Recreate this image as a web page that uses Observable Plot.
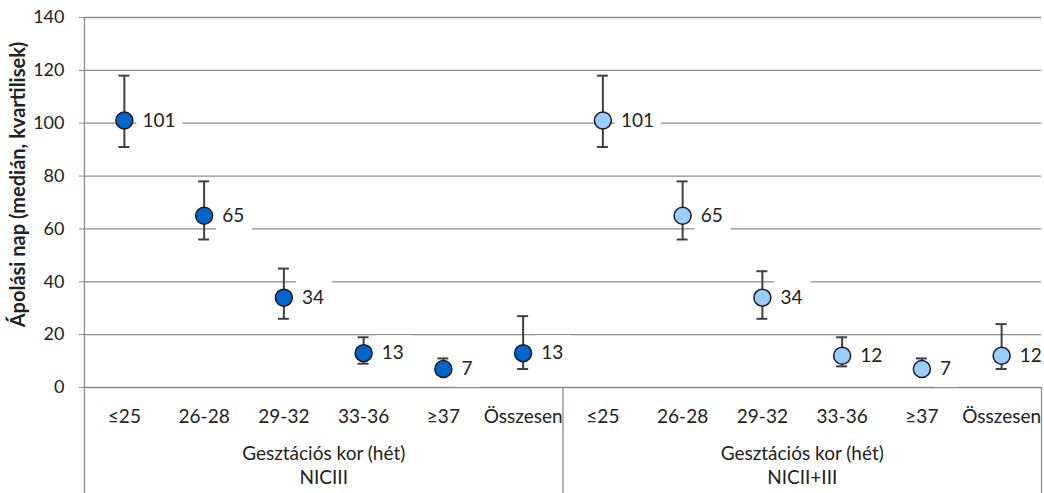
<!DOCTYPE html>
<html><head><meta charset="utf-8">
<script src="https://cdn.jsdelivr.net/npm/d3@7"></script>
<script src="https://cdn.jsdelivr.net/npm/@observablehq/plot@0.6"></script>
<style>body{margin:0;background:#fff;}</style>
</head><body><div id="chart"></div>
<script>
// ---- data ----
const categories = ["≤25", "26-28", "29-32", "33-36", "≥37", "Összesen"];
const groups = ["NICIII", "NICII+III"];
const xGroupTitle = "Gesztációs kor (hét)";
const yTitle = "Ápolási nap (medián, kvartilisek)";
const yTicks = [0, 20, 40, 60, 80, 100, 120, 140];
const medianNICIII = [101, 65, 34, 13, 7, 13];
const q1NICIII     = [91, 56, 26, 9, 5, 7];
const q3NICIII     = [118, 78, 45, 19, 11, 27];
const medianNICIIandIII = [101, 65, 34, 12, 7, 12];
const q1NICIIandIII     = [91, 56, 26, 8, 5, 7];
const q3NICIIandIII     = [118, 78, 44, 19, 11, 24];
const groupFills = ["#0066cc", "#99ccff"];

// ---- table ----
const series = [
  {median: medianNICIII, q1: q1NICIII, q3: q3NICIII},
  {median: medianNICIIandIII, q1: q1NICIIandIII, q3: q3NICIIandIII}
];
const rows = [];
groups.forEach((g, gi) => categories.forEach((c, ci) => rows.push({
  group: g, category: c, key: g + "|" + c,
  median: series[gi].median[ci], q1: series[gi].q1[ci], q3: series[gi].q3[ci]
})));
const keys = rows.map(d => d.key);

const W = 1044, H = 493, mL = 84, mR = 3, mT = 17, mB = 106;
const bw = (W - mL - mR) / keys.length;
const gridColor = "#8c8c8c", textColor = "#222";

function labelBox(w) { return {draw(ctx) { ctx.rect(12, -18, w, 36); }}; }
const boxWidths = {1: 24, 2: 36, 3: 46};

const chart = Plot.plot({
  width: W, height: H,
  marginLeft: mL, marginRight: mR, marginTop: mT, marginBottom: mB,
  style: {fontFamily: "Lato, 'Liberation Sans', sans-serif", fontSize: "18px", color: textColor, background: "#fff"},
  x: {type: "band", domain: keys, padding: 0, round: false, label: null},
  y: {domain: [0, 140], label: null},
  color: {domain: groups, range: groupFills},
  marks: [
    Plot.gridY(yTicks, {stroke: gridColor, strokeOpacity: 1, strokeWidth: 1.3}),
    Plot.axisY(yTicks, {tickSize: 5, tickPadding: 15, stroke: gridColor, fill: textColor, fontSize: 18, label: null}),
    // axis frame lines
    Plot.ruleX([keys[0]], {dx: -bw / 2, stroke: gridColor, strokeWidth: 1.3, insetBottom: -mB}),
    Plot.ruleX([keys[categories.length]], {y1: 0, y2: 0, dx: -bw / 2, stroke: gridColor, strokeWidth: 1.3, insetBottom: -mB}),
    Plot.ruleX([keys[keys.length - 1]], {y1: 0, y2: 0, dx: bw / 2, stroke: gridColor, strokeWidth: 1.3, insetBottom: -mB}),
    // label background boxes
    ...[1, 2, 3].map(n => Plot.dot(rows.filter(d => String(d.median).length === n),
      {x: "key", y: "median", symbol: labelBox(boxWidths[n]), fill: "#fff"})),
    // whiskers
    Plot.ruleX(rows, {x: "key", y1: "q1", y2: "q3", stroke: "#404040", strokeWidth: 2}),
    Plot.tickY(rows, {x: "key", y: "q3", insetLeft: (bw - 11) / 2, insetRight: (bw - 11) / 2, stroke: "#404040", strokeWidth: 2}),
    Plot.tickY(rows, {x: "key", y: "q1", insetLeft: (bw - 11) / 2, insetRight: (bw - 11) / 2, stroke: "#404040", strokeWidth: 2}),
    // medians
    Plot.dot(rows, {x: "key", y: "median", r: 8.5, fill: "group", stroke: "#1a1a1a", strokeWidth: 1.5}),
    Plot.text(rows, {x: "key", y: "median", text: d => String(d.median), dx: 18, textAnchor: "start", fontSize: 19, fill: textColor}),
    // x axis (categories)
    Plot.axisX({tickSize: 0, tickPadding: 22, tickFormat: k => k.split("|")[1], fontSize: 19, fill: textColor, label: null}),
    // group titles
    Plot.text(groups, {x: g => g + "|" + categories[3], dx: -bw / 2, frameAnchor: "bottom", dy: 72, text: () => xGroupTitle, fontSize: 19, fill: textColor}),
    Plot.text(groups, {x: g => g + "|" + categories[3], dx: -bw / 2, frameAnchor: "bottom", dy: 96, text: g => g, fontSize: 19, fill: textColor}),
    // y title
    Plot.text([yTitle], {frameAnchor: "left", textAnchor: "middle", rotate: -90, dx: -66, dy: -18, fontWeight: "bold", fontSize: 20, fill: textColor})
  ]
});
document.getElementById("chart").appendChild(chart);
</script>
</body></html>
